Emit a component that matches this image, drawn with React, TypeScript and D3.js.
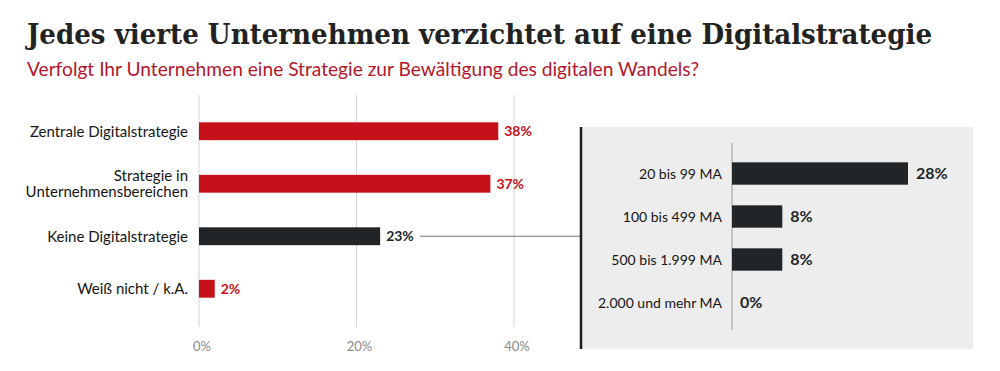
import React, { useEffect, useRef } from 'react';
import * as d3 from 'd3';

const title = 'Jedes vierte Unternehmen verzichtet auf eine Digitalstrategie';
const subtitle = 'Verfolgt Ihr Unternehmen eine Strategie zur Bewältigung des digitalen Wandels?';

// main chart
const mainCategories = [
  ['Zentrale Digitalstrategie'],
  ['Strategie in', 'Unternehmensbereichen'],
  ['Keine Digitalstrategie'],
  ['Weiß nicht / k.A.'],
];
const mainValues = [38, 37, 23, 2];
const mainHighlight = [false, false, true, false];
const mainTicks = [0, 20, 40];

// breakdown of "Keine Digitalstrategie" by company size
const sizeCategories = ['20 bis 99 MA', '100 bis 499 MA', '500 bis 1.999 MA', '2.000 und mehr MA'];
const sizeValues = [28, 8, 8, 0];

const RED = '#c6111b';
const DARK = '#222528';
const SANS = 'Lato, "Noto Sans", sans-serif';

const App = () => {
  const ref = useRef(null);

  useEffect(() => {
    if (!ref.current) return;
    d3.select(ref.current).selectAll('*').remove();

    const svg = d3.select(ref.current)
      .append('svg')
      .attr('width', 1000)
      .attr('height', 371)
      .style('position', 'absolute')
      .style('left', 0)
      .style('top', 0)
      .style('background', '#fff');

    svg.append('text')
      .attr('x', 27).attr('y', 44)
      .attr('font-family', '"DejaVu Serif", serif')
      .attr('font-weight', 'bold')
      .attr('font-size', 28)
      .attr('fill', '#222')
      .attr('textLength', 905)
      .attr('lengthAdjust', 'spacingAndGlyphs')
      .text(title);

    svg.append('text')
      .attr('x', 27).attr('y', 76)
      .attr('font-family', SANS)
      .attr('font-size', 19)
      .attr('fill', '#b3162b')
      .attr('textLength', 672)
      .attr('lengthAdjust', 'spacingAndGlyphs')
      .text(subtitle);

    // ---- left chart ----
    const x = d3.scaleLinear().domain([0, 40]).range([199, 514]);
    const y = d3.scaleBand()
      .domain(mainValues.map((_, i) => String(i)))
      .range([105, 315])
      .paddingInner(0.66)
      .paddingOuter(0.33);

    const left = svg.append('g');

    left.selectAll('line.grid')
      .data(mainTicks)
      .join('line')
      .attr('x1', d => x(d)).attr('x2', d => x(d))
      .attr('y1', 95).attr('y2', 327)
      .attr('stroke', '#d4d4d4')
      .attr('stroke-width', 1);

    left.selectAll('text.tick')
      .data(mainTicks)
      .join('text')
      .attr('x', d => x(d) + 3)
      .attr('y', 351)
      .attr('text-anchor', 'middle')
      .attr('font-family', SANS)
      .attr('font-size', 13)
      .attr('fill', '#8a8a8a')
      .text(d => d + '%');

    // connector from "Keine" to the panel
    const keineY = y('2') + y.bandwidth() / 2;
    left.append('line')
      .attr('x1', 420).attr('x2', 580)
      .attr('y1', keineY).attr('y2', keineY)
      .attr('stroke', '#777')
      .attr('stroke-width', 1);

    left.selectAll('rect.bar')
      .data(mainValues)
      .join('rect')
      .attr('x', x(0))
      .attr('y', (_, i) => y(String(i)))
      .attr('width', d => x(d) - x(0))
      .attr('height', y.bandwidth())
      .attr('fill', (_, i) => mainHighlight[i] ? DARK : RED);

    left.selectAll('text.val')
      .data(mainValues)
      .join('text')
      .attr('x', d => x(d) + 6)
      .attr('y', (_, i) => y(String(i)) + y.bandwidth() / 2)
      .attr('dy', '0.36em')
      .attr('font-family', SANS)
      .attr('font-weight', 'bold')
      .attr('font-size', 14)
      .attr('fill', (_, i) => mainHighlight[i] ? DARK : RED)
      .text(d => d + '%');

    mainCategories.forEach((lines, i) => {
      const cy = y(String(i)) + y.bandwidth() / 2;
      const t = left.append('text')
        .attr('x', 188)
        .attr('text-anchor', 'end')
        .attr('font-family', SANS)
        .attr('font-size', 15)
        .attr('fill', '#151515');
      lines.forEach((l, j) => {
        t.append('tspan')
          .attr('x', 188)
          .attr('y', cy + (j - (lines.length - 1) / 2) * 16)
          .attr('dy', '0.36em')
          .text(l);
      });
    });

    // ---- right panel ----
    const right = svg.append('g');
    right.append('rect')
      .attr('x', 581).attr('y', 127)
      .attr('width', 392).attr('height', 222)
      .attr('fill', '#ededed');
    right.append('line')
      .attr('x1', 581).attr('x2', 581)
      .attr('y1', 127).attr('y2', 349)
      .attr('stroke', '#1e1e1e')
      .attr('stroke-width', 2.5);

    const x2 = d3.scaleLinear().domain([0, 28]).range([732, 908]);
    const y2 = d3.scaleBand()
      .domain(sizeCategories)
      .range([152, 324])
      .paddingInner(0.48)
      .paddingOuter(0.24);

    right.append('line')
      .attr('x1', x2(0)).attr('x2', x2(0))
      .attr('y1', 143).attr('y2', 330)
      .attr('stroke', '#9a9a9a')
      .attr('stroke-width', 1);

    right.selectAll('rect.bar')
      .data(sizeValues)
      .join('rect')
      .attr('x', x2(0))
      .attr('y', (_, i) => y2(sizeCategories[i]))
      .attr('width', d => x2(d) - x2(0))
      .attr('height', y2.bandwidth())
      .attr('fill', DARK);

    right.selectAll('text.val')
      .data(sizeValues)
      .join('text')
      .attr('x', d => x2(d) + 8)
      .attr('y', (_, i) => y2(sizeCategories[i]) + y2.bandwidth() / 2)
      .attr('dy', '0.36em')
      .attr('font-family', SANS)
      .attr('font-weight', 'bold')
      .attr('font-size', 16)
      .attr('fill', DARK)
      .text(d => d + '%');

    right.selectAll('text.cat')
      .data(sizeCategories)
      .join('text')
      .attr('x', 722)
      .attr('y', d => y2(d) + y2.bandwidth() / 2)
      .attr('dy', '0.36em')
      .attr('text-anchor', 'end')
      .attr('font-family', SANS)
      .attr('font-size', 14)
      .attr('fill', '#151515')
      .text(d => d);
  }, []);

  return <div ref={ref}></div>;
};

export default App;
